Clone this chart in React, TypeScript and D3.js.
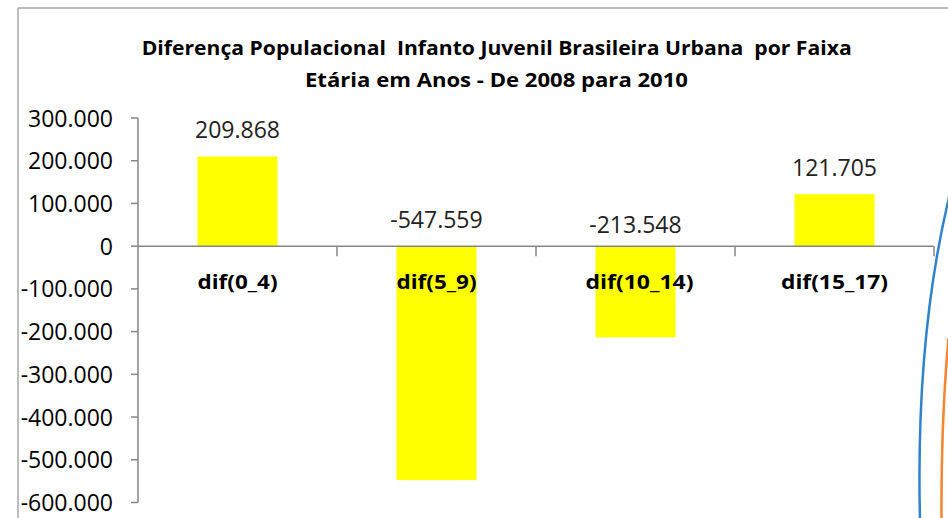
import React from "react";
import * as d3 from "d3";

const categories = ["dif(0_4)", "dif(5_9)", "dif(10_14)", "dif(15_17)"];
const values = [209868, -547559, -213548, 121705];
const valueLabels = ["209.868", "-547.559", "-213.548", "121.705"];
const yTicks = [300000, 200000, 100000, 0, -100000, -200000, -300000, -400000, -500000, -600000];
const titleLines = [
  "Diferença Populacional  Infanto Juvenil Brasileira Urbana  por Faixa",
  "Etária em Anos - De 2008 para 2010",
];

const W = 948;
const H = 518;
const FONT = "'Open Sans', 'DejaVu Sans', sans-serif";

const fmt = (v: number) =>
  v === 0 ? "0" : (v < 0 ? "-" : "") + d3.format(",")(Math.abs(v)).replace(/,/g, ".");

export default function App() {
  const y = d3.scaleLinear().domain([-600000, 300000]).range([502.5, 118]);
  const x = d3
    .scaleBand<string>()
    .domain(categories)
    .range([138, 934])
    .paddingInner(0.598)
    .paddingOuter(0.299);
  const y0 = y(0);
  const step = x.step();
  const catWidths = [80, 80, 108, 107];
  const labelNudge = [0, 0, 4, 0];

  return (
    <svg
      width={W}
      height={H}
      style={{ position: "absolute", left: 0, top: 0, display: "block", background: "#fff" }}
      fontFamily={FONT}
    >
      {/* frame */}
      <line x1={18} y1={8} x2={W} y2={8} stroke="#a6a6a6" strokeWidth={1.5} />
      <line x1={18} y1={8} x2={18} y2={H} stroke="#a6a6a6" strokeWidth={1.5} />

      {/* title */}
      <text x={496.7} y={55} textAnchor="middle" fontWeight="bold" fontSize={20} fill="#000"
        textLength={710} lengthAdjust="spacingAndGlyphs" style={{ whiteSpace: "pre" }}>
        {titleLines[0]}
      </text>
      <text x={496.5} y={87} textAnchor="middle" fontWeight="bold" fontSize={20} fill="#000"
        textLength={383} lengthAdjust="spacingAndGlyphs" style={{ whiteSpace: "pre" }}>
        {titleLines[1]}
      </text>

      {/* bars */}
      {categories.map((c, i) => {
        const v = values[i];
        const top = Math.min(y(v), y0);
        const h = Math.abs(y(v) - y0);
        return <rect key={c} x={x(c)} y={top} width={x.bandwidth()} height={h} fill="#ffff00" />;
      })}

      {/* y axis */}
      <line x1={138} y1={y(300000)} x2={138} y2={y(-600000)} stroke="#868686" strokeWidth={1.5} />
      {yTicks.map((t) => (
        <g key={t}>
          <line x1={131} x2={138} y1={y(t)} y2={y(t)} stroke="#868686" strokeWidth={1.5} />
          <text x={113} y={y(t) + 8.5} textAnchor="end" fontSize={23} fill="#000">
            {fmt(t)}
          </text>
        </g>
      ))}

      {/* x axis */}
      <line x1={138} y1={y0} x2={934} y2={y0} stroke="#868686" strokeWidth={1.5} />
      {categories.map((c, i) => {
        const bx = 138 + (i + 1) * step;
        return <line key={"t" + c} x1={bx} x2={bx} y1={y0} y2={y0 + 10} stroke="#868686" strokeWidth={1.5} />;
      })}

      {/* category labels */}
      {categories.map((c, i) => (
        <text key={"c" + c} x={(x(c) as number) + x.bandwidth() / 2 + labelNudge[i]} y={289}
          textAnchor="middle" fontWeight="bold" fontSize={20} fill="#000"
          textLength={catWidths[i]} lengthAdjust="spacingAndGlyphs">
          {c}
        </text>
      ))}

      {/* value labels */}
      {categories.map((c, i) => {
        const v = values[i];
        const cx = (x(c) as number) + x.bandwidth() / 2;
        const yy = v >= 0 ? y(v) - 18.5 : i === 1 ? 228 : 232.5;
        return (
          <text key={"v" + c} x={cx} y={yy} textAnchor="middle" fontSize={23} fill="#222">
            {valueLabels[i]}
          </text>
        );
      })}

      {/* decorative slide curves */}
      <path d="M 956 170 Q 915 320 920 520" fill="none" stroke="#2f83cc" strokeWidth={2.5} />
      <path d="M 948.5 338 Q 941 420 941.5 520" fill="none" stroke="#f5862f" strokeWidth={2.5} />
    </svg>
  );
}
